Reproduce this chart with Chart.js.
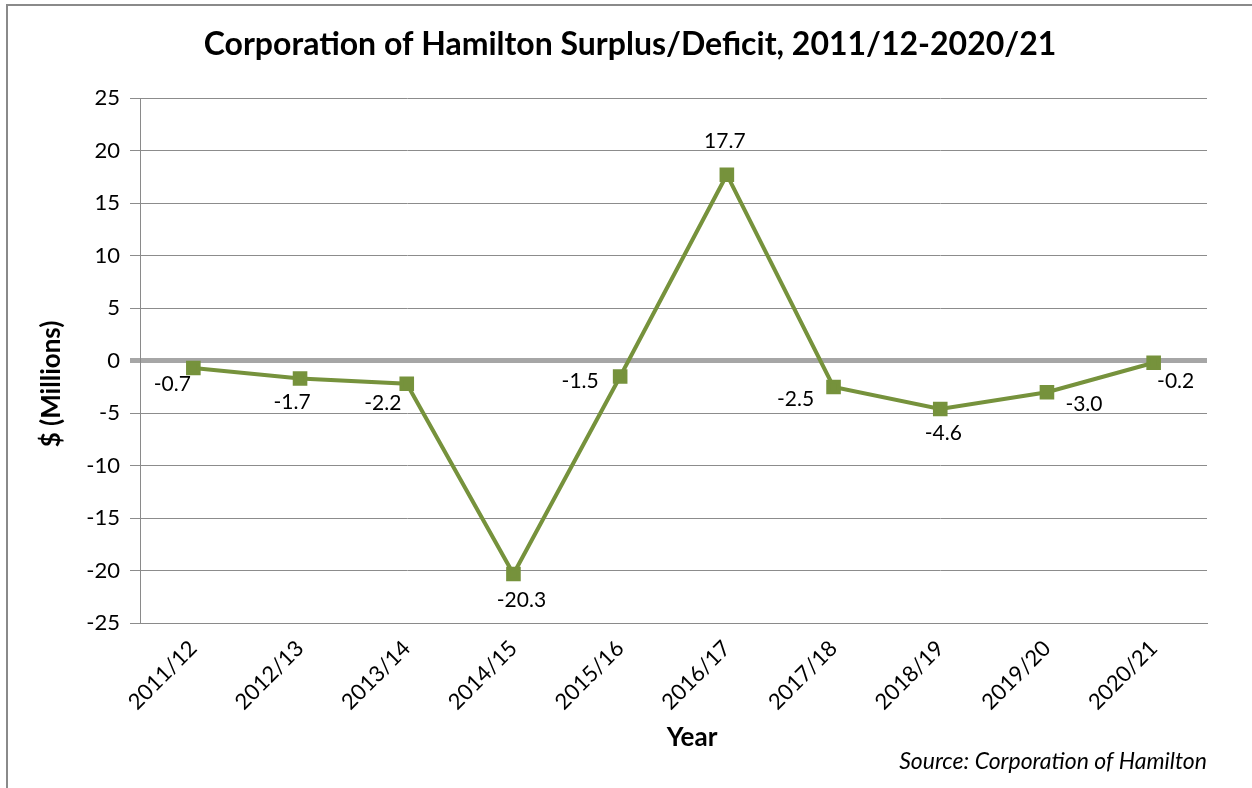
<!DOCTYPE html>
<html>
<head>
<meta charset="utf-8">
<script src="https://cdn.jsdelivr.net/npm/chart.js@4/dist/chart.umd.min.js"></script>
<style>
  html, body { margin: 0; padding: 0; background: #fff; }
  body { width: 1252px; height: 788px; position: relative; overflow: hidden; }
  #frame { position: absolute; left: 6px; top: 4px; width: 1260px; height: 800px; border: 2px solid #8a8a8a; box-sizing: border-box; }
  #wrap { position: absolute; left: 0; top: 0; width: 1252px; height: 788px; }
</style>
</head>
<body>
<div id="frame"></div>
<div id="wrap"><canvas id="c" width="1252" height="788"></canvas></div>
<script>
const categories = ['2011/12','2012/13','2013/14','2014/15','2015/16','2016/17','2017/18','2018/19','2019/20','2020/21'];
const surplusDeficit = [-0.7, -1.7, -2.2, -20.3, -1.5, 17.7, -2.5, -4.6, -3.0, -0.2];
const yTicks = [25, 20, 15, 10, 5, 0, -5, -10, -15, -20, -25];

const FONT = 'Lato, "Open Sans", sans-serif';
const GREEN = '#76923C';

// label placement offsets (style only)
const labelOffsets = [[-21,16],[-8,24],[-24,19],[8,26],[-40,5],[-2,-33],[-38,12],[3,24],[37,12],[22,18]];

const dataLabels = {
  id: 'dataLabels',
  afterDatasetsDraw(chart) {
    const ctx = chart.ctx;
    const meta = chart.getDatasetMeta(0);
    ctx.save();
    ctx.font = '21px ' + FONT;
    ctx.fillStyle = '#000';
    ctx.textAlign = 'center';
    ctx.textBaseline = 'middle';
    meta.data.forEach((pt, i) => {
      const v = chart.data.datasets[0].data[i];
      const o = labelOffsets[i];
      ctx.fillText(v.toFixed(1), pt.x + o[0], pt.y + o[1]);
    });
    ctx.restore();
  }
};

const axisTitles = {
  id: 'axisTitles',
  afterDraw(chart) {
    const ctx = chart.ctx;
    ctx.save();
    ctx.fillStyle = '#000';
    ctx.textAlign = 'center';
    ctx.textBaseline = 'middle';
    ctx.font = 'bold 26px ' + FONT;
    ctx.fillText('Year', 692, 738);
    ctx.translate(52, 384);
    ctx.rotate(-Math.PI / 2);
    ctx.font = 'bold 26px ' + FONT;
    ctx.fillText('$ (Millions)', 0, 0);
    ctx.restore();
  }
};

new Chart(document.getElementById('c'), {
  type: 'line',
  data: {
    labels: categories,
    datasets: [{
      data: surplusDeficit,
      borderColor: GREEN,
      backgroundColor: GREEN,
      borderWidth: 4,
      pointStyle: 'rect',
      pointRadius: 7.5,
      pointHoverRadius: 7.5,
      pointBackgroundColor: GREEN,
      pointBorderColor: GREEN,
      tension: 0
    }]
  },
  options: {
    responsive: false,
    animation: false,
    layout: { padding: { left: 53, right: 45, top: 0, bottom: 0 } },
    plugins: {
      legend: { display: false },
      tooltip: { enabled: false },
      title: {
        display: true,
        text: 'Corporation of Hamilton Surplus/Deficit, 2011/12-2020/21',
        color: '#000',
        font: { family: FONT, size: 32, weight: 'bold', lineHeight: 1.2 },
        padding: { top: 25, bottom: 34.6 }
      },
      subtitle: {
        display: true,
        position: 'bottom',
        align: 'end',
        text: 'Source: Corporation of Hamilton',
        color: '#000',
        font: { family: FONT, size: 23, style: 'italic', lineHeight: 1.2 },
        padding: { top: 0, bottom: 13 }
      }
    },
    scales: {
      x: {
        offset: true,
        grid: { display: false },
        border: { display: true, color: '#8a8a8a', width: 1 },
        ticks: {
          color: '#000',
          font: { family: FONT, size: 22 },
          maxRotation: 45,
          minRotation: 45,
          padding: 4
        },
        afterFit(scale) { scale.height = 124; }
      },
      y: {
        min: -25,
        max: 25,
        afterBuildTicks(scale) { scale.ticks = yTicks.map(v => ({ value: v })); },
        grid: {
          color: ctx => (ctx.tick && ctx.tick.value === 0) ? '#a6a6a6' : '#8c8c8c',
          lineWidth: ctx => (ctx.tick && ctx.tick.value === 0) ? 5 : 1,
          tickLength: 10,
          drawTicks: true
        },
        border: { display: true, color: '#8a8a8a', width: 1 },
        ticks: {
          color: '#000',
          font: { family: FONT, size: 22 },
          padding: 10
        },
        afterFit(scale) { scale.width = 87; }
      }
    }
  },
  plugins: [dataLabels, axisTitles]
});
</script>
</body>
</html>
